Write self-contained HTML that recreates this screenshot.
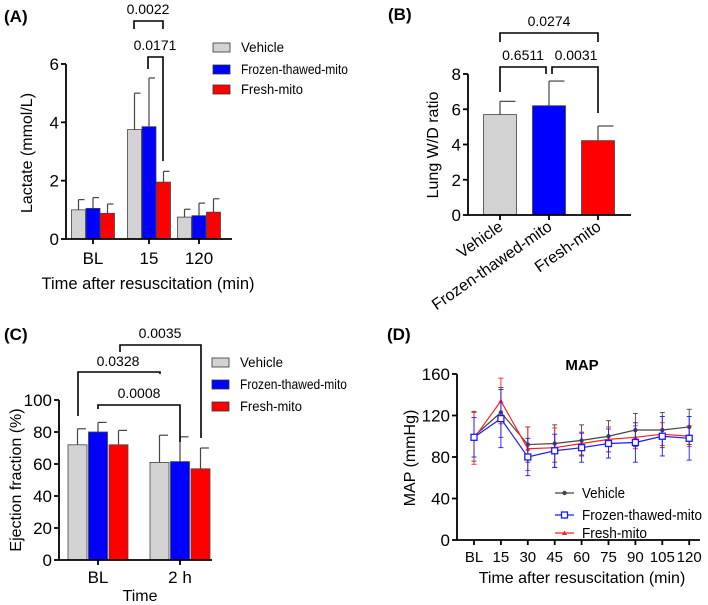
<!DOCTYPE html>
<html><head><meta charset="utf-8">
<style>
body{margin:0;background:#fff;}
svg{display:block;font-family:"Liberation Sans",Arial,sans-serif;}
</style></head>
<body>
<svg id="s" width="708" height="605" viewBox="0 0 708 605">
<g id="A">
<text x="4" y="22" font-size="17" font-weight="bold">(A)</text>
<text transform="translate(32,153) rotate(-90)" text-anchor="middle" font-size="16">Lactate (mmol/L)</text>
<text x="148" y="289" text-anchor="middle" font-size="16.5">Time after resuscitation (min)</text>
</g>
<g id="B">
<text x="388" y="20" font-size="17" font-weight="bold">(B)</text>
<text transform="translate(438,145) rotate(-90)" text-anchor="middle" font-size="16">Lung W/D ratio</text>
</g>
<g id="C">
<text x="4" y="340" font-size="17" font-weight="bold">(C)</text>
<text transform="translate(21,480) rotate(-90)" text-anchor="middle" font-size="16">Ejection fraction (%)</text>
<text x="140" y="601" text-anchor="middle" font-size="16">Time</text>
</g>
<g id="D">
<text x="387" y="340" font-size="17" font-weight="bold">(D)</text>
<text x="582" y="370" text-anchor="middle" font-size="15" font-weight="bold">MAP</text>
<text transform="translate(415,458) rotate(-90)" text-anchor="middle" font-size="16">MAP (mmHg)</text>
<text x="582" y="583" text-anchor="middle" font-size="16">Time after resuscitation (min)</text>
</g>
</svg>
<script>
const NS="http://www.w3.org/2000/svg";
const seriesNames=["Vehicle","Frozen-thawed-mito","Fresh-mito"];
const fills=["#d3d3d3","#0000ff","#ff0000"];
// Panel A
const aCats=["BL","15","120"];
const aMean=[[1.0,3.75,0.75],[1.05,3.85,0.8],[0.88,1.95,0.92]];
const aErr=[[0.35,1.25,0.27],[0.37,1.67,0.43],[0.32,0.37,0.46]];
const aTicks=[0,2,4,6];
// Panel B
const bCats=["Vehicle","Frozen-thawed-mito","Fresh-mito"];
const bMean=[5.7,6.2,4.22];
const bErr=[0.75,1.4,0.83];
const bTicks=[0,2,4,6,8];
// Panel C
const cCats=["BL","2 h"];
const cMean=[[72,61],[80,61.5],[72,57]];
const cErr=[[10,17],[6,15.5],[9,13]];
const cTicks=[0,20,40,60,80,100];
// Panel D
const dCats=["BL","15","30","45","60","75","90","105","120"];
const dVeh=[100,123,92,93,96,100,106,106,109];
const dVehErr=[24,24,17,18,15,15,16,17,17];
const dFro=[99,117,80,86,89,93,94,100,98];
const dFroErr=[19,28,18,16,14,14,19,19,21];
const dFre=[98,134,88,89,93,97,99,102,100];
const dFreErr=[25,22,21,19,11,12,11,11,10];
const dTicks=[0,40,80,120,160];

const legendLens=[43,107,62];
const dLegendLens=[43,120,65];
function el(tag,attrs,parent,txt){const e=document.createElementNS(NS,tag);for(const k in attrs)e.setAttribute(k,attrs[k]);if(txt!==undefined)e.textContent=txt;parent.appendChild(e);return e;}
function line(p,x1,y1,x2,y2,c,w){return el("line",{x1,y1,x2,y2,stroke:c||"#000","stroke-width":w||1.6},p);}
function yAxis(p,x,y0,yTop,ticks,sc,fs){line(p,x,y0,x,yTop,"#000",1.8);ticks.forEach(t=>{const y=sc(t);line(p,x-5,y,x,y,"#000",1.8);const tx=el("text",{x:x-7,y:y+6,"text-anchor":"end","font-size":fs||17},p,String(t));});}
function bracket(p,x1,x2,top,l,r,label,tx,ty){const pa=el("path",{d:`M${x1},${l}V${top}H${x2}V${r}`,fill:"none",stroke:"#000","stroke-width":1.6},p);const t=el("text",{x:tx,y:ty,"text-anchor":"middle","font-size":14},p,label);}
function legendBars(p,x,ys){seriesNames.forEach((n,i)=>{const g=el("g",{},p);el("rect",{x:x,y:ys[i],width:17,height:9,fill:fills[i],stroke:"#333","stroke-width":0.8},g);el("text",{x:x+28,y:ys[i]+9,"font-size":14,textLength:legendLens[i],lengthAdjust:"spacingAndGlyphs"},g,n);});}
function bar(p,xc,w,v,e,sc,fill,name){const g=el("g",{},p);const y0=sc(0),y=sc(v),ye=sc(v+e);line(g,xc,y,xc,ye,"#444",1.2);line(g,xc,ye,xc+w/2-1,ye,"#444",1.2);el("rect",{x:xc-w/2,y:y,width:w,height:y0-y,fill:fill,stroke:"#444","stroke-width":0.8},g);}

// A
(function(){const p=document.getElementById("A");const sc=v=>239-v*29.17;const centers=[93,149,199];const w=14.5;
aCats.forEach((c,gi)=>{for(let s=0;s<3;s++){bar(p,centers[gi]+(s-1)*w,w-0.5,aMean[s][gi],aErr[s][gi],sc,fills[s],'bar-a-'+c+'-'+s);}
line(p,centers[gi],239,centers[gi],244,"#000",1.8);const t=el("text",{x:centers[gi],y:264,"text-anchor":"middle","font-size":17},p,c);});
line(p,66,239,232,239,"#000",1.8);yAxis(p,66,239,64,aTicks,sc);
bracket(p,134,163,21,29,29,"0.0022",148,14);bracket(p,148,163,57,69,161,"0.0171",155,50);
legendBars(p,213,[43,65,85]);})();

// B
(function(){const p=document.getElementById("B");const sc=v=>215-v*17.625;const centers=[500,549,598];const w=33;
bCats.forEach((c,i)=>{bar(p,centers[i],w,bMean[i],bErr[i],sc,fills[i],'bar-b-'+i);line(p,centers[i],215,centers[i],220,"#000",1.8);
const t=el("text",{transform:`translate(${centers[i]+4},229) rotate(-35)`,"text-anchor":"end","font-size":16},p,c);});
line(p,468,215,631,215,"#000",1.8);yAxis(p,468,215,74,bTicks,sc);
bracket(p,500,598,33,42,42,"0.0274",549,26);bracket(p,500,546,67,92,74,"0.6511",523,60);bracket(p,552,598,67,74,113,"0.0031",576,60);})();

// C
(function(){const p=document.getElementById("C");const sc=v=>560-v*1.6;const centers=[98,180];const w=20.5;
cCats.forEach((c,gi)=>{for(let s=0;s<3;s++){bar(p,centers[gi]+(s-1)*w,w-1.5,cMean[s][gi],cErr[s][gi],sc,fills[s],'bar-c-'+gi+'-'+s);}
line(p,centers[gi],560,centers[gi],565,"#000",1.8);const t=el("text",{x:centers[gi],y:583,"text-anchor":"middle","font-size":17},p,c);});
line(p,59,560,212,560,"#000",1.8);yAxis(p,59,560,400,cTicks,sc);
bracket(p,120,201,345,352,438,"0.0035",160,338);bracket(p,78,160,372,416,374,"0.0328",118,366);bracket(p,98,180,405,409,442,"0.0008",139,398);
legendBars(p,212,[358,380,402]);})();

// D
(function(){const p=document.getElementById("D");const sc=v=>540-v*1.0375;const xs=i=>474+i*26.9;
line(p,457,540,700,540,"#000",1.8);yAxis(p,457,540,374,dTicks,sc);
dCats.forEach((c,i)=>{line(p,xs(i),540,xs(i),545,"#000",1.8);const t=el("text",{x:xs(i),y:562,"text-anchor":"middle","font-size":15},p,c);});
const ser=[[dVeh,dVehErr,"#444","dot","vehicle"],[dFre,dFreErr,"#ff2020","tri","fresh"],[dFro,dFroErr,"#1a1aff","sq","frozen"]];
ser.forEach(([v,e,c,m,n])=>{const g=el("g",{},p);
v.forEach((val,i)=>{const x=xs(i);line(g,x,sc(val-e[i]),x,sc(val+e[i]),c,0.9);line(g,x-2.5,sc(val-e[i]),x+2.5,sc(val-e[i]),c,0.9);line(g,x-2.5,sc(val+e[i]),x+2.5,sc(val+e[i]),c,0.9);});
el("polyline",{points:v.map((val,i)=>xs(i)+","+sc(val)).join(" "),fill:"none",stroke:c,"stroke-width":1.2},g);
v.forEach((val,i)=>{const x=xs(i),y=sc(val);let mk;if(m==="sq")mk=el("rect",{x:x-3,y:y-3,width:6,height:6,fill:"#fff",stroke:c,"stroke-width":1.3},g);else if(m==="dot")mk=el("circle",{cx:x,cy:y,r:2.2,fill:c},g);else mk=el("path",{d:`M${x},${y-2.5}L${x+2.5},${y+2}L${x-2.5},${y+2}Z`,fill:c},g);});});
const lg=[["Vehicle","#444","dot",493],["Frozen-thawed-mito","#1a1aff","sq",515],["Fresh-mito","#ff2020","tri",533]];
lg.forEach(([n,c,m,y],i)=>{const g=el("g",{},p);line(g,555,y,574,y,c,1.2);
if(m==="sq")el("rect",{x:561.5,y:y-3,width:6,height:6,fill:"#fff",stroke:c,"stroke-width":1.3},g);else if(m==="dot")el("circle",{cx:564.5,cy:y,r:2.2,fill:c},g);else el("path",{d:`M564.5,${y-2.5}L567,${y+2}L562,${y+2}Z`,fill:c},g);
el("text",{x:582,y:y+5,"font-size":14.5,textLength:dLegendLens[i],lengthAdjust:"spacingAndGlyphs"},g,n);});})();
</script>
</body></html>
